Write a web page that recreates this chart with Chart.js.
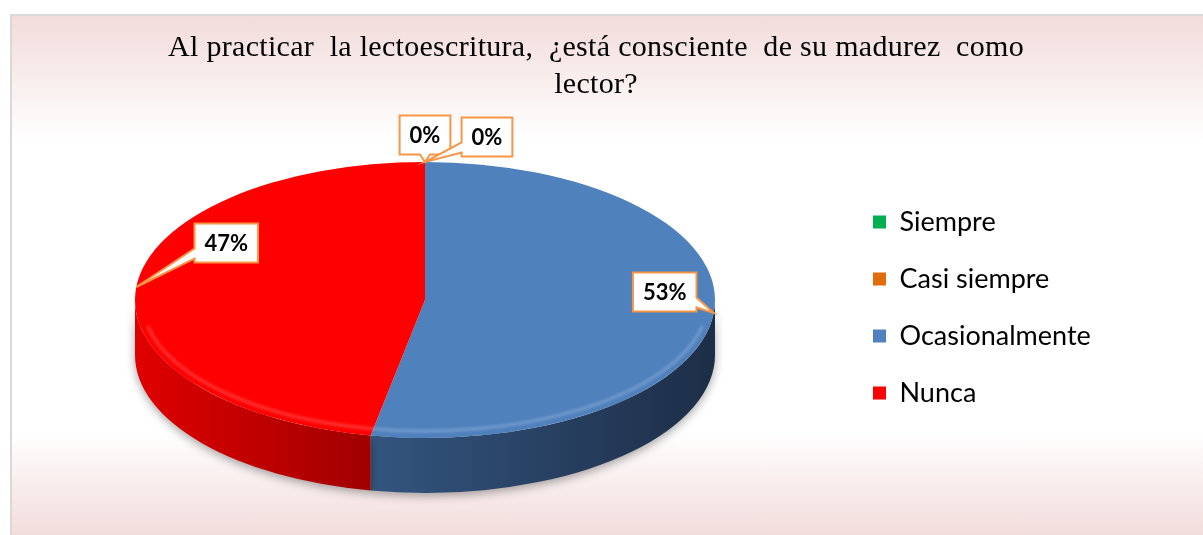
<!DOCTYPE html>
<html>
<head>
<meta charset="utf-8">
<script src="https://cdn.jsdelivr.net/npm/chart.js@4.4.1/dist/chart.umd.min.js"></script>
<style>
    html, body { margin: 0; padding: 0; background: #ffffff; overflow: hidden; }
    #frame {
        position: absolute; left: 10px; top: 14px; width: 1200px; height: 530px;
        border-left: 2px solid #d9d9d9; border-top: 2px solid #d9d9d9;
        background: linear-gradient(to bottom, #f2dcdb 0px, #ffffff 125px, #ffffff 415px, #f2dcdb 521px);
    }
    #chart { position: absolute; left: 0; top: 0; }
</style>
</head>
<body>
<div id="frame"></div>
<canvas id="chart" width="1203" height="535"></canvas>
<script>
/* ============================================
   DATA
============================================ */

const titleLines = [
    "Al practicar  la lectoescritura,  ¿está consciente  de su madurez  como",
    "lector?"
];
const categories = ["Siempre", "Casi siempre", "Ocasionalmente", "Nunca"];
const percentages = [0, 0, 53, 47];

/* ============================================
   Legend width -> padding so the pie sits left
============================================ */

const legendFont = { family: "Lato", size: 27 };
const legendPadding = 30;
const measureCtx = document.createElement("canvas").getContext("2d");
measureCtx.font = legendFont.size + "px " + legendFont.family;
const longestLabel = Math.max(...categories.map(c => measureCtx.measureText(c).width));
const legendWidth = legendPadding + 13 + legendFont.size / 2 + longestLabel + 10;
const legendLeft = 843;
const pieCenterX = 425;

/* ============================================
   Plugins
============================================ */

// front wall of the tilted pie + squash the top face into an ellipse
const pie3d = {
    id: "pie3d",
    beforeDatasetsDraw(chart, args, opts) {
        const ctx = chart.ctx;
        const arcs = chart.getDatasetMeta(0).data;
        const { x: cx, y: cy, outerRadius: r } = arcs[0];
        const rx = opts.rx, ry = opts.ry, depth = opts.depth;

        arcs.forEach((arc, i) => {
            const parts = [];
            [-2, 0, 2].forEach(k => {
                const s = Math.max(arc.startAngle, k * Math.PI);
                const e = Math.min(arc.endAngle, k * Math.PI + Math.PI);
                if (e > s) parts.push([s, e]);
            });
            parts.forEach(([s, e]) => {
                const xLeft = cx + rx * Math.cos(e);
                const xRight = cx + rx * Math.cos(s);
                const g = ctx.createLinearGradient(xLeft, 0, xRight, 0);
                g.addColorStop(0, opts.wallColors[i][0]);
                g.addColorStop(1, opts.wallColors[i][1]);
                ctx.save();
                ctx.shadowColor = "rgba(0, 0, 0, 0.35)";
                ctx.shadowBlur = 10;
                ctx.shadowOffsetY = 3;
                ctx.fillStyle = g;
                ctx.beginPath();
                ctx.ellipse(cx, cy, rx, ry, 0, s, e, false);
                ctx.ellipse(cx, cy + depth, rx, ry, 0, e, s, true);
                ctx.closePath();
                ctx.fill();
                ctx.restore();
            });
        });

        ctx.save();
        ctx.translate(cx, cy);
        ctx.scale(rx / r, ry / r);
        ctx.translate(-cx, -cy);
    },
    afterDatasetsDraw(chart, args, opts) {
        const ctx = chart.ctx;
        ctx.restore();

        // soft bevel light along the front rim of the top face
        const { x: cx, y: cy } = chart.getDatasetMeta(0).data[0];
        ctx.save();
        ctx.strokeStyle = "rgba(255, 255, 255, 0.16)";
        ctx.lineWidth = 4;
        ctx.filter = "blur(1px)";
        ctx.beginPath();
        ctx.ellipse(cx, cy, opts.rx - 7, opts.ry - 7, 0, 0.2, Math.PI - 0.2);
        ctx.stroke();
        ctx.restore();
    }
};

// orange callout boxes with the percentage
const calloutLabels = {
    id: "calloutLabels",
    afterDatasetsDraw(chart, args, opts) {
        const ctx = chart.ctx;
        const pie = chart.options.plugins.pie3d;
        const arcs = chart.getDatasetMeta(0).data;
        const values = chart.data.datasets[0].data;
        const total = values.reduce((s, v) => s + v, 0);

        ctx.save();
        ctx.font = opts.font;
        ctx.textAlign = "center";
        ctx.textBaseline = "middle";

        arcs.forEach((arc, i) => {
            const mid = (arc.startAngle + arc.endAngle) / 2;
            const tx = arc.x + pie.rx * Math.cos(mid);
            const ty = arc.y + pie.ry * Math.sin(mid);
            const text = Math.round(values[i] / total * 100) + "%";
            const w = ctx.measureText(text).width + 2 * opts.padX;
            const h = opts.height;
            const bx = tx + opts.offsets[i][0] - w / 2;
            const by = ty + opts.offsets[i][1] - h / 2;

            drawCallout(ctx, bx, by, w, h, tx, ty);
            ctx.fillStyle = "#fff";
            ctx.fill();
            ctx.lineWidth = 2;
            ctx.strokeStyle = "#f79646";
            ctx.stroke();

            ctx.fillStyle = "#000";
            ctx.fillText(text, bx + w / 2, by + h / 2 + 1);
        });
        ctx.restore();
    }
};

function drawCallout(ctx, bx, by, w, h, tx, ty) {
    const dx = (tx - (bx + w / 2)) / (w / 2);
    const dy = (ty - (by + h / 2)) / (h / 2);
    let edge;
    if (Math.abs(dx) > Math.abs(dy)) edge = dx > 0 ? 1 : 3;
    else edge = dy > 0 ? 2 : 0;

    const half = 5;
    const clamp = (v, a, b) => Math.min(Math.max(v, a), b);
    const mx = clamp(tx, bx + half + 4, bx + w - half - 4);
    const my = clamp(ty, by + half + 4, by + h - half - 4);

    const corners = [[bx, by], [bx + w, by], [bx + w, by + h], [bx, by + h]];
    const pts = [];
    for (let k = 0; k < 4; k++) {
        pts.push(corners[k]);
        if (k !== edge) continue;
        if (edge === 0) pts.push([mx - half, by], [tx, ty], [mx + half, by]);
        if (edge === 1) pts.push([bx + w, my - half], [tx, ty], [bx + w, my + half]);
        if (edge === 2) pts.push([mx + half, by + h], [tx, ty], [mx - half, by + h]);
        if (edge === 3) pts.push([bx, my + half], [tx, ty], [bx, my - half]);
    }
    ctx.beginPath();
    pts.forEach((p, i) => (i ? ctx.lineTo(p[0], p[1]) : ctx.moveTo(p[0], p[1])));
    ctx.closePath();
}

// two-line serif title
const titleText = {
    id: "titleText",
    afterDraw(chart, args, opts) {
        const ctx = chart.ctx;
        ctx.save();
        ctx.font = opts.font;
        ctx.letterSpacing = opts.letterSpacing;
        ctx.fillStyle = "#000";
        ctx.textAlign = "center";
        ctx.textBaseline = "alphabetic";
        opts.lines.forEach((line, i) => {
            ctx.fillText(line, opts.x, opts.y + i * opts.lineHeight);
        });
        ctx.restore();
    }
};

/* ============================================
   Chart
============================================ */

const ctx = document.getElementById("chart").getContext("2d");

new Chart(ctx, {
    type: "pie",
    data: {
        labels: categories,
        datasets: [{
            data: percentages,
            backgroundColor: ["#00b050", "#e36c0a", "#4f81bd", "#ff0000"],
            borderWidth: 0
        }]
    },
    options: {
        responsive: false,
        devicePixelRatio: 1,
        animation: false,
        events: [],
        layout: {
            padding: {
                left: 2 * pieCenterX - legendLeft,
                right: 1203 - legendLeft - legendWidth,
                top: 120,
                bottom: 55
            }
        },
        plugins: {
            title: { display: false },
            tooltip: { enabled: false },
            legend: {
                position: "right",
                title: {
                    display: true,
                    text: "",
                    font: { size: 1 },
                    padding: { top: 14, bottom: 0 }
                },
                labels: {
                    boxWidth: 13,
                    boxHeight: 13,
                    padding: legendPadding,
                    color: "#000",
                    font: legendFont
                }
            },
            pie3d: {
                rx: 290,
                ry: 138,
                depth: 55,
                wallColors: [
                    ["#008a3e", "#00562a"],
                    ["#b85608", "#7a3905"],
                    ["#33557f", "#1d2e47"],
                    ["#e00000", "#a00000"]
                ]
            },
            calloutLabels: {
                font: "bold 22px Lato",
                padX: 10,
                height: 39,
                offsets: [[0, -27], [62, -25], [-49, -21], [90, -44]]
            },
            titleText: {
                lines: titleLines,
                font: "30px 'Liberation Serif'",
                letterSpacing: "0.3px",
                x: 596,
                y: 56,
                lineHeight: 37
            }
        }
    },
    plugins: [pie3d, calloutLabels, titleText]
});
</script>
</body>
</html>
